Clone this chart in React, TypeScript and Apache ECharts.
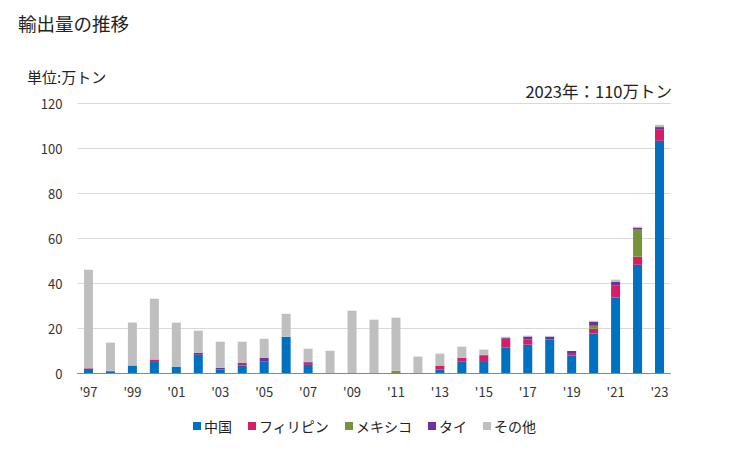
import React, { useEffect, useRef } from "react";
import * as echarts from "echarts";

const years = [
  "'97", "'98", "'99", "'00", "'01", "'02", "'03", "'04", "'05", "'06",
  "'07", "'08", "'09", "'10", "'11", "'12", "'13", "'14", "'15", "'16",
  "'17", "'18", "'19", "'20", "'21", "'22", "'23",
];
const china = [1.8, 0.6, 3.3, 5.3, 2.8, 8.1, 1.6, 3.3, 5.2, 16.1, 3.6, 0, 0, 0, 0, 0, 1.5, 5.0, 5.3, 11.4, 12.6, 14.9, 7.8, 17.6, 33.6, 48.1, 103.2];
const philippines = [0.3, 0.4, 0, 0.7, 0, 0, 0, 1.3, 0, 0, 1.0, 0, 0, 0, 0, 0, 1.8, 1.8, 2.5, 3.7, 2.4, 0, 0.7, 2.1, 5.2, 3.6, 4.9];
const mexico = [0, 0, 0, 0, 0, 0, 0, 0, 0, 0, 0, 0, 0, 0, 1.0, 0, 0, 0, 0, 0, 0, 0, 0, 1.3, 0, 12.0, 0];
const thailand = [0, 0, 0, 0, 0, 0.9, 0.7, 0, 1.6, 0, 0.4, 0, 0, 0, 0, 0, 0, 0, 0.3, 0.4, 1.2, 1.2, 1.3, 1.8, 1.8, 0.9, 1.2];
const others = [43.8, 12.5, 19.1, 27.0, 19.6, 9.8, 11.6, 9.3, 8.4, 10.2, 5.8, 9.9, 27.7, 23.7, 23.6, 7.3, 5.3, 4.9, 2.3, 0.6, 0.4, 0.4, 0, 0.4, 0.9, 0.4, 1.0];

const seriesNames = ["中国", "フィリピン", "メキシコ", "タイ", "その他"];
const seriesColors = ["#0070C0", "#D41F66", "#76933C", "#7030A0", "#BFBFBF"];
const seriesData = [china, philippines, mexico, thailand, others];

const titleText = "輸出量の推移";
const unitText = "単位:万トン";
const noteText = "2023年：110万トン";

const FONT = "'Noto Sans CJK JP', 'Noto Sans', sans-serif";

export default function App() {
  const ref = useRef<HTMLDivElement>(null);
  useEffect(() => {
    document.body.style.margin = "0";
    if (!ref.current) return;
    const chart = echarts.init(ref.current, undefined, { renderer: "svg" });
    chart.setOption({
      animation: false,
      backgroundColor: "#ffffff",
      textStyle: { fontFamily: FONT },
      grid: { left: 77.5, right: 58.5, top: 103, bottom: 77, containLabel: false },
      graphic: [
        { type: "text", left: 18, top: 14, style: { text: titleText, fontSize: 18.5, fill: "#222", fontFamily: FONT } },
        { type: "text", left: 27, top: 69, style: { text: unitText, fontSize: 15, fill: "#222", fontFamily: FONT } },
        { type: "text", right: 57, top: 83, style: { text: noteText, fontSize: 16.5, fill: "#222", fontFamily: FONT } },
      ],
      legend: {
        bottom: 12,
        left: "center",
        icon: "rect",
        itemWidth: 8,
        itemHeight: 8,
        itemGap: 16,
        textStyle: { fontSize: 14, color: "#222", fontFamily: FONT, padding: [0, 0, 0, -2] },
        data: seriesNames,
      },
      xAxis: {
        type: "category",
        data: years,
        axisTick: { show: false },
        axisLine: { lineStyle: { color: "#888", width: 1 } },
        axisLabel: { interval: 1, color: "#333", fontSize: 13, margin: 12, fontFamily: FONT },
      },
      yAxis: {
        type: "value",
        min: 0,
        max: 120,
        interval: 20,
        axisLine: { show: false },
        axisTick: { show: false },
        splitLine: { lineStyle: { color: "#d9d9d9", width: 1 } },
        axisLabel: { color: "#333", fontSize: 13, margin: 15, fontFamily: FONT },
      },
      series: seriesNames.map((name, i) => ({
        name,
        type: "bar",
        stack: "total",
        barWidth: 9,
        itemStyle: { color: seriesColors[i] },
        data: seriesData[i],
      })),
    });
    return () => chart.dispose();
  }, []);
  return <div ref={ref} style={{ width: 729, height: 450 }} />;
}
